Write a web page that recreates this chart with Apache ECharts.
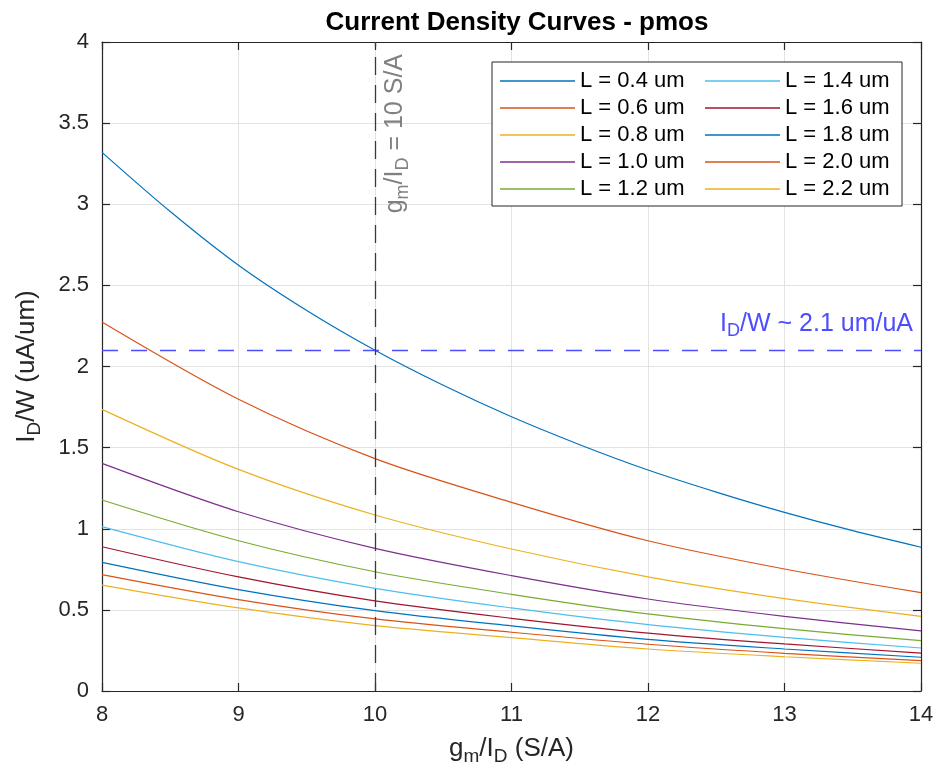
<!DOCTYPE html>
<html>
<head>
<meta charset="utf-8">
<script src="https://cdn.jsdelivr.net/npm/echarts@6/dist/echarts.min.js"></script>
<style>html,body{margin:0;padding:0;background:#fff}#c{width:938px;height:771px}</style>
</head>
<body>
<div id="c"></div>
<script>
const gmId = [8, 9, 10, 11, 12, 13, 14];
const gmIdFine = [8, 8.5, 9, 9.5, 10, 10.5, 11, 11.5, 12, 12.5, 13, 13.5, 14];
const L04 = [3.32, 2.955, 2.624, 2.345, 2.10, 1.884, 1.69, 1.518, 1.362, 1.226, 1.101, 0.988, 0.886];
const L06 = [2.274, 1.798, 1.432, 1.163, 0.926, 0.752, 0.606];
const L08 = [1.736, 1.366, 1.085, 0.875, 0.703, 0.569, 0.460];
const L10 = [1.403, 1.105, 0.879, 0.711, 0.567, 0.460, 0.370];
const L12 = [1.177, 0.926, 0.735, 0.596, 0.475, 0.384, 0.310];
const L14 = [1.013, 0.797, 0.633, 0.512, 0.409, 0.331, 0.265];
const L16 = [0.889, 0.703, 0.555, 0.448, 0.357, 0.290, 0.234];
const L18 = [0.793, 0.625, 0.495, 0.401, 0.318, 0.259, 0.208];
const L20 = [0.717, 0.563, 0.444, 0.362, 0.288, 0.232, 0.187];
const L22 = [0.653, 0.512, 0.403, 0.329, 0.259, 0.211, 0.171];
const names = ['L = 0.4 um','L = 0.6 um','L = 0.8 um','L = 1.0 um','L = 1.2 um','L = 1.4 um','L = 1.6 um','L = 1.8 um','L = 2.0 um','L = 2.2 um'];
const colors = ['#0072BD','#D95319','#EDB120','#7E2F8E','#77AC30','#4DBEEE','#A2142F','#0072BD','#D95319','#EDB120'];
const xTicks = [8, 9, 10, 11, 12, 13, 14];
const yTicks = [0, 0.5, 1, 1.5, 2, 2.5, 3, 3.5, 4];
const refX = 10, refY = 2.1;

const FONT = 'Liberation Sans';
const allY = [L04, L06, L08, L10, L12, L14, L16, L18, L20, L22];
const pair = (xs, ys) => xs.map((x, i) => [x, ys[i]]);

const series = allY.map((ys, i) => ({
  name: names[i],
  type: 'line',
  data: pair(i === 0 ? gmIdFine : gmId, ys),
  symbol: 'none',
  showSymbol: false,
  smooth: 0.3,
  lineStyle: { color: colors[i], width: 1.2 },
  itemStyle: { color: colors[i] },
  z: 2,
  silent: true
}));

function richSub(color, n, s, drop) {
  return {
    n: { fontSize: n, fontFamily: FONT, color: color, verticalAlign: 'top', lineHeight: n + 4 },
    s: { fontSize: s, fontFamily: FONT, color: color, verticalAlign: 'bottom', lineHeight: s + 2, padding: [drop, 0, 0, 0] }
  };
}

series.push({
  type: 'line', data: [], silent: true, z: 3,
  markLine: {
    silent: true, symbol: 'none', animation: false,
    data: [
      {
        yAxis: refY,
        lineStyle: { color: '#4d4dff', type: [16, 13], width: 1.3 },
        label: {
          show: true, position: 'insideEndTop', distance: [8, 10],
          formatter: '{n|I}{s|D}{n|/W ~ 2.1 um/uA}',
          color: '#4d4dff',
          rich: richSub('#4d4dff', 25, 18, 16)
        }
      },
      {
        xAxis: refX,
        lineStyle: { color: '#3a3a3a', type: [18, 10], width: 1.3 },
        label: {
          show: true, position: 'insideEndBottom', distance: [12, 8],
          formatter: '{n|g}{s|m}{n|/I}{s|D}{n| = 10 S/A}',
          color: '#808080',
          rich: richSub('#808080', 25, 18, 16)
        }
      }
    ]
  }
});

const axisCommon = {
  axisLine: { show: true, onZero: false, lineStyle: { color: '#262626', width: 1.2 } },
  axisTick: { show: true, inside: true, length: 8, lineStyle: { color: '#262626', width: 1.2 } }
};

const legendCommon = {
  orient: 'vertical',
  top: 70,
  padding: 0,
  icon: 'rect',
  itemWidth: 75,
  itemHeight: 1.5,
  itemGap: 5,
  z: 20,
  selectedMode: false,
  textStyle: { fontSize: 22, lineHeight: 20, fontFamily: FONT, color: '#000' }
};

const option = {
  backgroundColor: '#fff',
  animation: false,
  title: {
    text: 'Current Density Curves - pmos',
    left: 512, top: 5, textAlign: 'center',
    textStyle: { fontSize: 26, fontWeight: 'bold', fontFamily: FONT, color: '#000' }
  },
  grid: { left: 102, right: 17, top: 42, bottom: 80 },
  legend: [
    Object.assign({ left: 500, data: names.slice(0, 5) }, legendCommon),
    Object.assign({ left: 705, data: names.slice(5) }, legendCommon)
  ],
  graphic: [{
    type: 'rect', z: 10,
    shape: { x: 492, y: 62, width: 410, height: 144 },
    style: { fill: '#fff', stroke: '#262626', lineWidth: 1 }
  }],
  xAxis: [
    Object.assign({
      type: 'value', min: xTicks[0], max: xTicks[xTicks.length - 1], interval: 1,
      position: 'bottom',
      name: '{n|g}{s|m}{n|/I}{s|D}{n| (S/A)}',
      nameLocation: 'middle', nameGap: 38,
      nameTextStyle: { rich: richSub('#262626', 26, 19, 16) },
      axisLabel: { fontSize: 22, fontFamily: FONT, color: '#262626', margin: 13 },
      splitLine: { show: true, lineStyle: { color: '#e3e3e3', width: 1 } }
    }, axisCommon),
    Object.assign({
      type: 'value', min: xTicks[0], max: xTicks[xTicks.length - 1], interval: 1,
      position: 'top', axisLabel: { show: false }, splitLine: { show: false }
    }, axisCommon)
  ],
  yAxis: [
    Object.assign({
      type: 'value', min: yTicks[0], max: yTicks[yTicks.length - 1], interval: 0.5,
      position: 'left',
      name: '{n|I}{s|D}{n|/W (uA/um)}',
      nameLocation: 'middle', nameGap: 58, nameRotate: 90,
      nameTextStyle: { rich: richSub('#262626', 26, 19, 16) },
      axisLabel: { fontSize: 22, fontFamily: FONT, color: '#262626', margin: 13 },
      splitLine: { show: true, lineStyle: { color: '#e3e3e3', width: 1 } }
    }, axisCommon),
    Object.assign({
      type: 'value', min: yTicks[0], max: yTicks[yTicks.length - 1], interval: 0.5,
      position: 'right', axisLabel: { show: false }, splitLine: { show: false }
    }, axisCommon)
  ],
  series: series
};

const chart = echarts.init(document.getElementById('c'), null, { renderer: 'canvas' });
chart.setOption(option);
</script>
</body>
</html>
